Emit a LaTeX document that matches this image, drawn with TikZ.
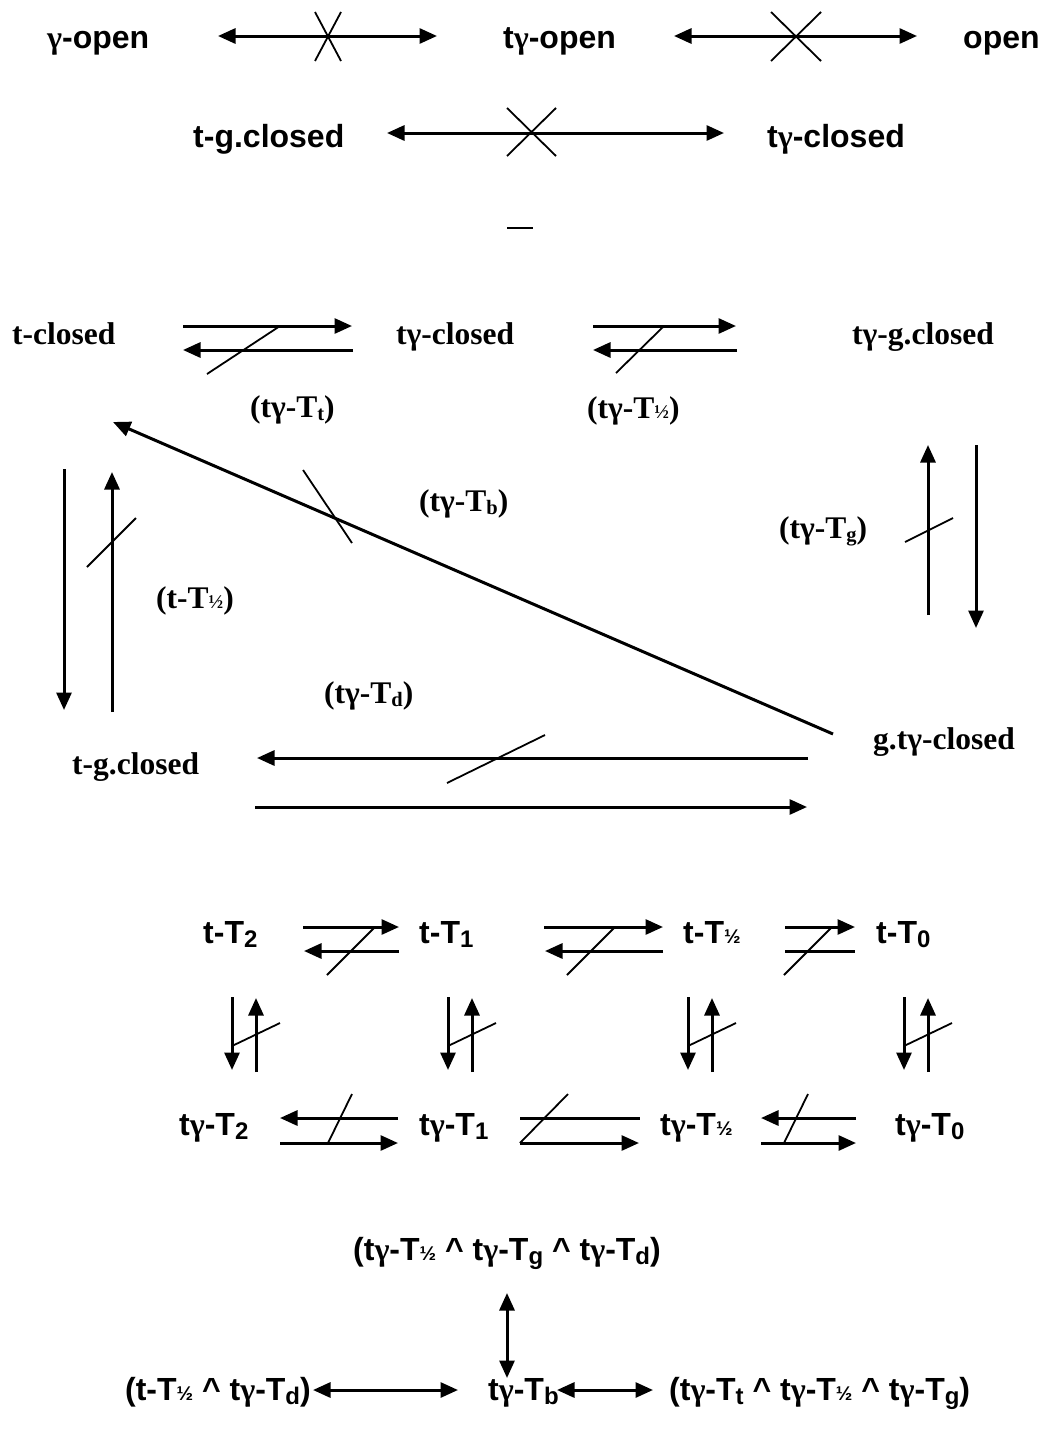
\documentclass[tikz,border=0pt]{standalone}
\usepackage{fontspec}
\setmainfont{Liberation Serif}
\newfontfamily\arialf{Liberation Sans}
\usetikzlibrary{arrows.meta}
\newcommand{\gm}{{\rmfamily γ}}
\newcommand{\hf}{\scalebox{0.62}{½}}
\newcommand{\sbs}[1]{\raisebox{-0.15em}{\scalebox{0.75}{#1}}}
\newcommand{\sbr}[1]{\raisebox{-0.1em}{\scalebox{0.65}{#1}}}
% arrow helpers: name, x1, y1, x2, y2
\newcommand{\arr}[6][]{\coordinate (#2s) at (#3,#4); \coordinate (#2e) at (#5,#6); \draw[conn,#1] (#2s) -- (#2e);}
\newcommand{\sla}[5]{\coordinate (#1s) at (#2,#3); \coordinate (#1e) at (#4,#5); \draw[slash] (#1s) -- (#1e);}
\begin{document}
\begin{tikzpicture}[x=1pt,y=-1pt,
  tip/.tip={Triangle[length=17.5pt,width=15pt]},
  conn/.style={line width=3pt,-tip},
  both/.style={tip-tip},
  plain/.style={-},
  slash/.style={line width=1.8pt},
  lab/.style={inner sep=0pt,anchor=west,text height=23pt,text depth=7pt},
  sans/.style={lab,font=\arialf\bfseries\fontsize{32}{38}\selectfont},
  serif/.style={lab,font=\bfseries\fontsize{31.5}{38}\selectfont}]
\useasboundingbox[fill=white] (0,0) rectangle (1039,1432);

% ---------- top section ----------
\node[sans] (go) at (47,40) {\gm-open};
\node[sans] (tgo) at (503,40) {t\gm-open};
\node[sans] (op) at (963,40) {open};
\node[sans] (tgc1) at (193,139) {t-g.closed};
\node[sans] (tgcl1) at (767,139) {t\gm-closed};
\arr[both]{t1}{218}{36}{437}{36}
\sla{x1a}{315}{12}{341}{61} \sla{x1b}{341}{12}{315}{61}
\arr[both]{t2}{674}{36}{917}{36}
\sla{x2a}{771}{12}{821}{61} \sla{x2b}{821}{12}{771}{61}
\arr[both]{t3}{387}{133}{724}{133}
\sla{x3a}{507}{108}{556}{156} \sla{x3b}{556}{108}{507}{156}
\coordinate (dsa) at (507,228); \coordinate (dsb) at (533,228);
\draw[line width=1.5pt] (dsa) -- (dsb);

% ---------- middle section ----------
\node[serif] (tc) at (12,336) {t-closed};
\node[serif] (tgcl) at (396,336) {t\gm-closed};
\node[serif] (tggc) at (852,336) {t\gm-g.closed};
\node[serif] (lTt) at (250,409) {(t\gm-T\sbr{t})};
\node[serif] (lTh) at (587,410) {(t\gm-T\hf)};
\node[serif] (lTb) at (419,503) {(t\gm-T\sbr{b})};
\node[serif] (lTh2) at (156,600) {(t-T\hf)};
\node[serif] (lTg) at (779,530) {(t\gm-T\sbr{g})};
\node[serif] (lTd) at (324,695) {(t\gm-T\sbr{d})};
\node[serif] (tgcl2) at (72,766) {t-g.closed};
\node[serif] (gtc) at (873,741) {g.t\gm-closed};

\arr{m1}{183}{326}{352}{326} \arr{m2}{353}{350}{183}{350} \sla{ms1}{207}{374}{280}{326}
\arr{m3}{593}{326}{736}{326} \arr{m4}{737}{350}{593}{350} \sla{ms2}{616}{373}{664}{326}
\arr{md}{833}{734}{113}{422} \sla{ms3}{303}{470}{352}{543}
\arr{ml1}{64}{469}{64}{710} \arr{ml2}{112}{712}{112}{472} \sla{ms4}{87}{567}{136}{518}
\arr{mr1}{928}{615}{928}{445} \arr{mr2}{976}{445}{976}{628} \sla{ms5}{905}{542}{953}{518}
\arr{mb1}{808}{758}{257}{758} \arr{mb2}{255}{807}{807}{807} \sla{ms6}{447}{783}{545}{735}

% ---------- grid section ----------
\node[sans] (tT2) at (203,935) {t-T\sbs{2}};
\node[sans] (tT1) at (419,935) {t-T\sbs{1}};
\node[sans] (tTh) at (683,935) {t-T\hf};
\node[sans] (tT0) at (876,935) {t-T\sbs{0}};
\node[sans] (gT2) at (179,1127) {t\gm-T\sbs{2}};
\node[sans] (gT1) at (419,1127) {t\gm-T\sbs{1}};
\node[sans] (gTh) at (660,1127) {t\gm-T\hf};
\node[sans] (gT0) at (895,1127) {t\gm-T\sbs{0}};

\arr{ga1}{303}{927}{399}{927} \arr{ga2}{399}{951}{304}{951} \sla{gsa}{327}{975}{375}{927}
\arr{gb1}{544}{927}{663}{927} \arr{gb2}{663}{951}{545}{951} \sla{gsb}{567}{975}{615}{927}
\arr{gc1}{785}{927}{855}{927} \arr[plain]{gc2}{785}{951}{855}{951} \sla{gsc}{784}{975}{832}{927}
\foreach \xd/\nm in {232/p1,448/p2,688/p3,904/p4}{
  \coordinate (\nm ds) at (\xd,997); \coordinate (\nm de) at (\xd,1070);
  \coordinate (\nm us) at (\xd+24,1072); \coordinate (\nm ue) at (\xd+24,998);
  \coordinate (\nm ss) at (\xd,1046); \coordinate (\nm se) at (\xd+48,1023);
  \draw[conn] (\nm ds) -- (\nm de);
  \draw[conn] (\nm us) -- (\nm ue);
  \draw[slash] (\nm ss) -- (\nm se);
}
\arr{gd1}{398}{1118}{280}{1118} \arr{gd2}{280}{1143}{398}{1143} \sla{gsd}{328}{1143}{352}{1094}
\arr[plain]{ge1}{520}{1118}{640}{1118} \arr{ge2}{520}{1143}{639}{1143} \sla{gse}{520}{1143}{568}{1094}
\arr{gf1}{856}{1118}{761}{1118} \arr{gf2}{761}{1143}{856}{1143} \sla{gsf}{784}{1143}{808}{1094}

% ---------- bottom section ----------
\node[sans,anchor=center] (bt) at (507,1252) {(t\gm-T\hf\ \^{} t\gm-T\sbs{g} \^{} t\gm-T\sbs{d})};
\node[sans,anchor=east] (bl) at (311,1392) {(t-T\hf\ \^{} t\gm-T\sbs{d})};
\node[sans] (bm) at (488,1392) {t\gm-T\sbs{b}};
\node[sans] (br) at (669,1392) {(t\gm-T\sbs{t} \^{} t\gm-T\hf\ \^{} t\gm-T\sbs{g})};
\arr[both]{bv}{507}{1293}{507}{1378}
\arr[both]{bh1}{313}{1390}{458}{1390}
\arr[both]{bh2}{557}{1390}{653}{1390}
\end{tikzpicture}
\end{document}
